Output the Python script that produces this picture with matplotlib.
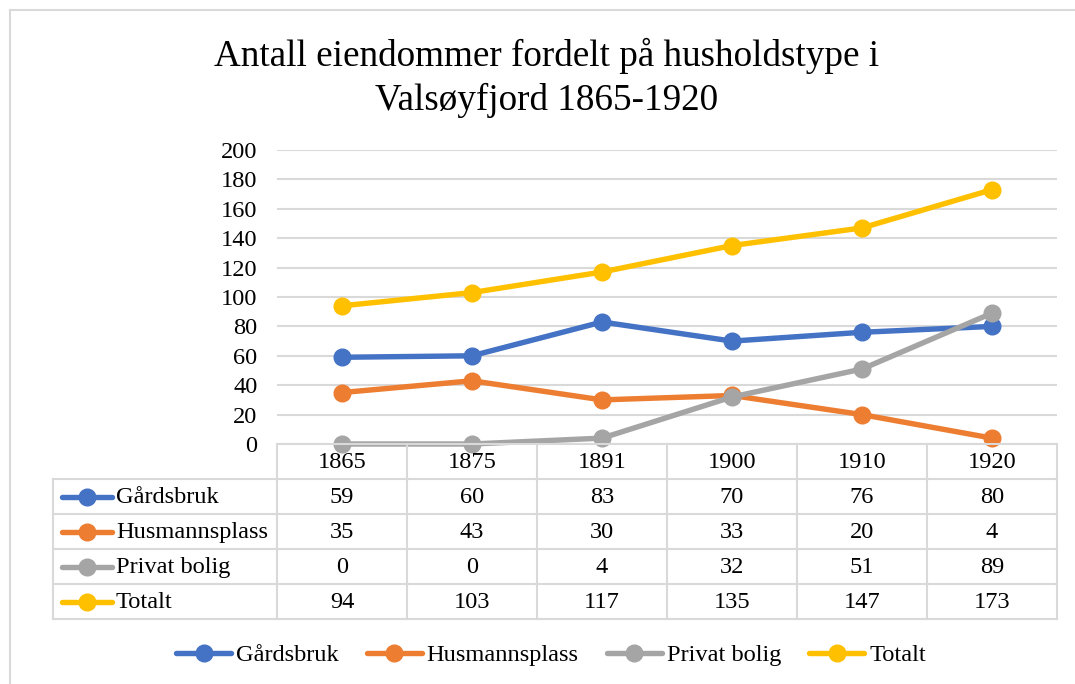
import matplotlib
matplotlib.use("Agg")
import matplotlib.pyplot as plt
from matplotlib.lines import Line2D

# ---- data ----
years = ["1865", "1875", "1891", "1900", "1910", "1920"]
series_names = ["Gårdsbruk", "Husmannsplass", "Privat bolig", "Totalt"]
gardsbruk = [59, 60, 83, 70, 76, 80]
husmannsplass = [35, 43, 30, 33, 20, 4]
privat_bolig = [0, 0, 4, 32, 51, 89]
totalt = [94, 103, 117, 135, 147, 173]
series_values = [gardsbruk, husmannsplass, privat_bolig, totalt]
colors = ["#4472C4", "#ED7D31", "#A5A5A5", "#FFC000"]
title = "Antall eiendommer fordelt på husholdstype i\nValsøyfjord 1865-1920"
yticks = [0, 20, 40, 60, 80, 100, 120, 140, 160, 180, 200]

plt.rcParams["font.family"] = ["Liberation Serif", "DejaVu Serif"]

W, H = 1075, 684
fig = plt.figure(figsize=(W / 100, H / 100), dpi=100)

def fx(px):
    return px / W

def fy(py):
    return 1 - py / H

grid_c = "#D9D9D9"
FS = 17.6
LW = 3.9
MS = 12

# chart border (left/top visible)
fig.add_artist(Line2D([fx(10), fx(10)], [fy(10), fy(684)], color=grid_c, lw=1.5))
fig.add_artist(Line2D([fx(10), fx(1075)], [fy(10), fy(10)], color=grid_c, lw=1.5))

# ---- main plot ----
left, right, top, bottom = 277, 1057, 150, 444
ax = fig.add_axes([fx(left), fy(bottom), fx(right - left), fy(top) - fy(bottom)])
x = list(range(len(years)))
for vals, c in zip(series_values, colors):
    ax.plot(x, vals, color=c, lw=LW, marker="o", markersize=MS, zorder=3,
            solid_capstyle="round", clip_on=False)
ax.set_xlim(-0.5, len(years) - 0.5)
ax.set_ylim(0, 200)
ax.set_yticks(yticks)
ax.set_yticklabels([str(v) for v in yticks], fontsize=FS)
ax.set_xticks([])
ax.tick_params(axis="y", length=0, pad=14)
ax.yaxis.grid(True, color=grid_c, lw=1.5)
ax.set_axisbelow(True)
for s in ax.spines.values():
    s.set_visible(False)

fig.text(fx(547), fy(110), title, ha="center", va="baseline", fontsize=26.7,
         linespacing=1.34)

# ---- data table ----
t_left, t_bottom = 53, 619
col_w = (right - left) / len(years)
lab_w = (left - t_left) / col_w
tax = fig.add_axes([fx(t_left), fy(t_bottom), fx(right - t_left), fy(bottom) - fy(t_bottom)])
tax.set_xlim(-0.5 - lab_w, len(years) - 0.5)
tax.set_ylim(5, 0)
tax.axis("off")
lw_t = 1.5
# horizontal lines
tax.plot([-0.5, len(years) - 0.5], [0, 0], color=grid_c, lw=lw_t, clip_on=False)
for r in range(1, 6):
    tax.plot([-0.5 - lab_w, len(years) - 0.5], [r, r], color=grid_c, lw=lw_t, clip_on=False)
# vertical lines
for c in range(len(years) + 1):
    tax.plot([c - 0.5, c - 0.5], [0, 5], color=grid_c, lw=lw_t, clip_on=False)
tax.plot([-0.5 - lab_w] * 2, [1, 5], color=grid_c, lw=lw_t, clip_on=False)
# header
for i, yr in enumerate(years):
    tax.text(i, 0.52, yr, ha="center", va="center", fontsize=FS)
# rows
key_x0 = -0.5 - lab_w + 9 / col_w
key_x1 = key_x0 + 50 / col_w
for r, (name, vals, c) in enumerate(zip(series_names, series_values, colors), start=1):
    tax.plot([key_x0, key_x1], [r + 0.5, r + 0.5], color=c, lw=LW,
             solid_capstyle="round", clip_on=False)
    tax.plot([(key_x0 + key_x1) / 2], [r + 0.5], color=c, marker="o",
             markersize=MS, clip_on=False)
    tax.text(key_x1 + 4 / col_w, r + 0.52, name, ha="left", va="center", fontsize=FS)
    for i, v in enumerate(vals):
        tax.text(i, r + 0.52, str(v), ha="center", va="center", fontsize=FS)

# ---- legend ----
handles = [Line2D([], [], color=c, lw=LW, marker="o", markersize=MS,
                  solid_capstyle="round") for c in colors]
fig.legend(handles, series_names, loc="center", bbox_to_anchor=(fx(551), fy(655)),
           ncol=4, frameon=False, fontsize=FS, handlelength=2.25,
           handletextpad=0.2, columnspacing=1.15)

fig.savefig("out.png", dpi=100, facecolor="white")
